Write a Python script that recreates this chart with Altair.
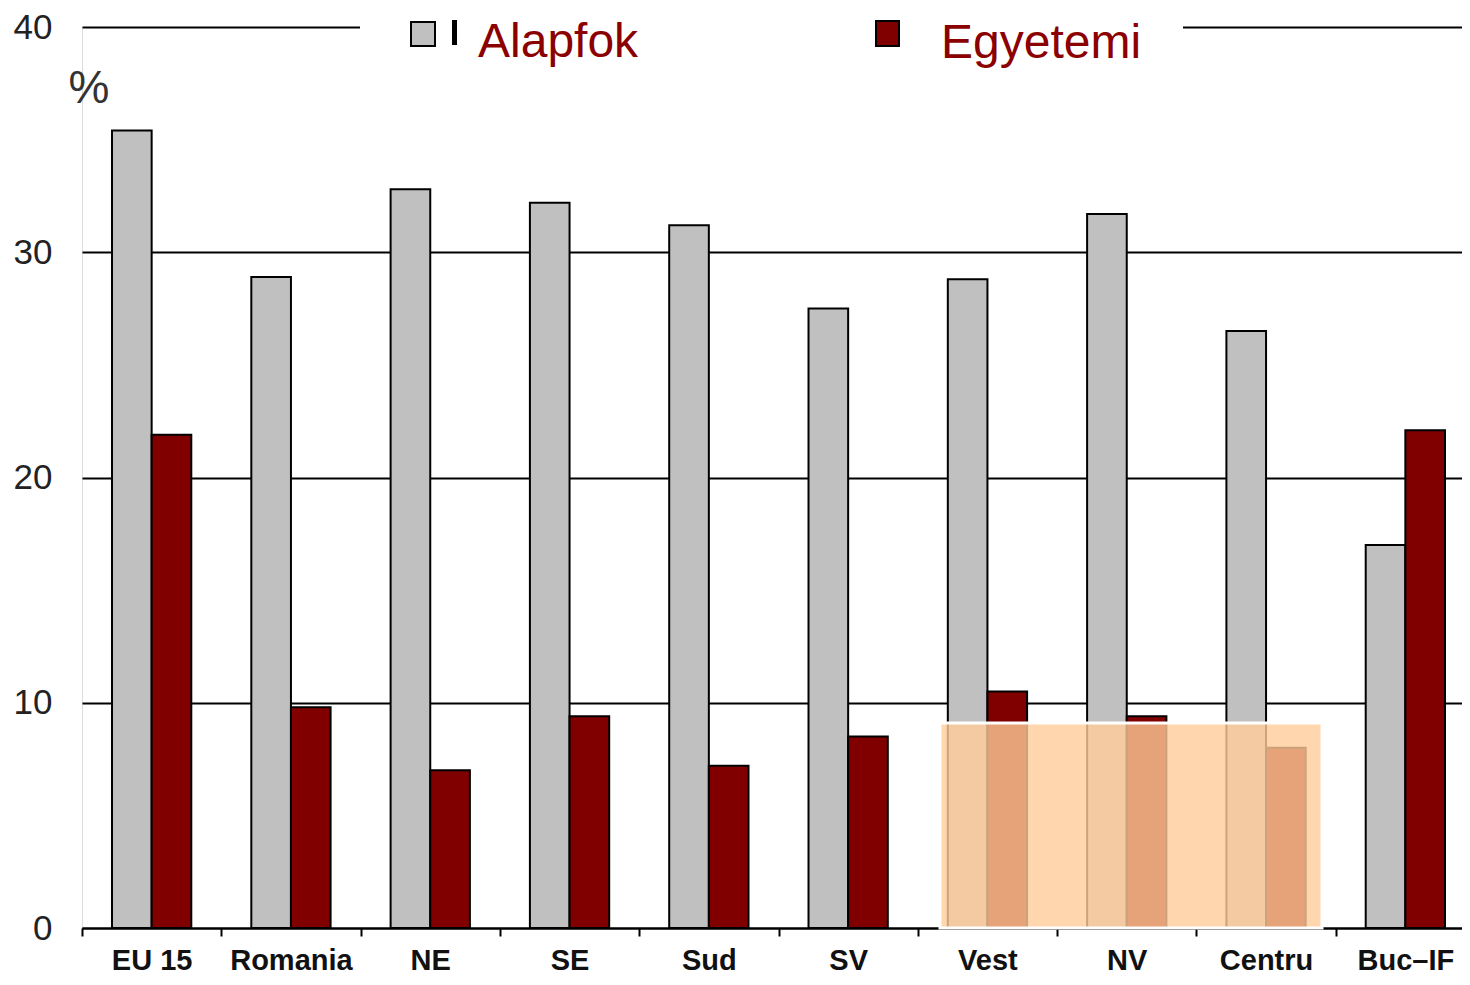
import altair as alt
import pandas as pd

categories = ["EU 15", "Romania", "NE", "SE", "Sud", "SV", "Vest", "NV", "Centru", "Buc–IF"]
alapfok = [35.4, 28.9, 32.8, 32.2, 31.2, 27.5, 28.8, 31.7, 26.5, 17.0]
egyetemi = [21.9, 9.8, 7.0, 9.4, 7.2, 8.5, 10.5, 9.4, 8.0, 22.1]
series = ["Alapfok", "Egyetemi"]
colors = ["#C0C0C0", "#800000"]
y_ticks = [0, 10, 20, 30, 40]

rows = []
for c, a, e in zip(categories, alapfok, egyetemi):
    rows.append({"cat": c, "series": series[0], "value": a})
    rows.append({"cat": c, "series": series[1], "value": e})
df = pd.DataFrame(rows)

FONT = "Liberation Sans"
W, H = 1380, 901

bars = alt.Chart(df).mark_bar(stroke="black", strokeWidth=2).encode(
    x=alt.X("cat:N", sort=categories, title=None,
            scale=alt.Scale(paddingInner=0, paddingOuter=0, range=[0, 1393]),
            axis=alt.Axis(labelAngle=0, labelFontSize=29, labelFontWeight="bold",
                          labelColor="#111", labelFont=FONT, labelPadding=10,
                          domainColor="black", domainWidth=2, ticks=True,
                          tickColor="black", tickWidth=2, tickSize=8,
                          tickBand="extent", grid=False, zindex=0)),
    xOffset=alt.XOffset("series:N", sort=series,
                        scale=alt.Scale(paddingOuter=0.757, paddingInner=0)),
    y=alt.Y("value:Q", title=None,
            scale=alt.Scale(domain=[0, 40], nice=False),
            axis=alt.Axis(values=y_ticks, domain=False, ticks=False, grid=True,
                          gridColor="black", gridWidth=2, labelFontSize=35,
                          labelColor="#222", labelFont=FONT, labelPadding=30,
                          zindex=0)),
    fill=alt.Fill("series:N", scale=alt.Scale(domain=series, range=colors), legend=None),
)

one = pd.DataFrame({"k": [0]})
base = alt.Chart(one)

overlay = base.mark_rect(fill="#FFCC99", fillOpacity=0.8, stroke="white", strokeWidth=3).encode(
    x=alt.value(858), x2=alt.value(1240), y=alt.value(696), y2=alt.value(901)
)

legend_bg = base.mark_rect(fill="white").encode(
    x=alt.value(278), x2=alt.value(1101), y=alt.value(-19), y2=alt.value(25)
)
sq_gray = base.mark_rect(fill="#C0C0C0", stroke="black", strokeWidth=2).encode(
    x=alt.value(329), x2=alt.value(353), y=alt.value(-5), y2=alt.value(19)
)
sq_red = base.mark_rect(fill="#800000", stroke="black", strokeWidth=2).encode(
    x=alt.value(794), x2=alt.value(817), y=alt.value(-6), y2=alt.value(19)
)
glyph = base.mark_rect(fill="black").encode(
    x=alt.value(370), x2=alt.value(375), y=alt.value(-7), y2=alt.value(18)
)
txt_a = base.mark_text(text="Alapfok", font=FONT, fontSize=48, color="#8B0000",
                       align="left", baseline="alphabetic").encode(
    x=alt.value(396), y=alt.value(30)
)
txt_e = base.mark_text(text="Egyetemi", font=FONT, fontSize=48, color="#8B0000",
                       align="left", baseline="alphabetic").encode(
    x=alt.value(859), y=alt.value(31)
)
pct = base.mark_text(text="%", font=FONT, fontSize=46, color="#333",
                     align="center", baseline="alphabetic").encode(
    x=alt.value(7), y=alt.value(76)
)

chart = alt.layer(bars, overlay, legend_bg, sq_gray, sq_red, glyph, txt_a, txt_e, pct).properties(
    width=W, height=H,
    autosize=alt.AutoSizeParams(type="none"),
    padding={"left": 74, "top": 19, "right": 0, "bottom": 49},
).configure_view(stroke=None).configure(background="white")

chart.save("out.html", embed_options={"renderer": "svg", "actions": False})
